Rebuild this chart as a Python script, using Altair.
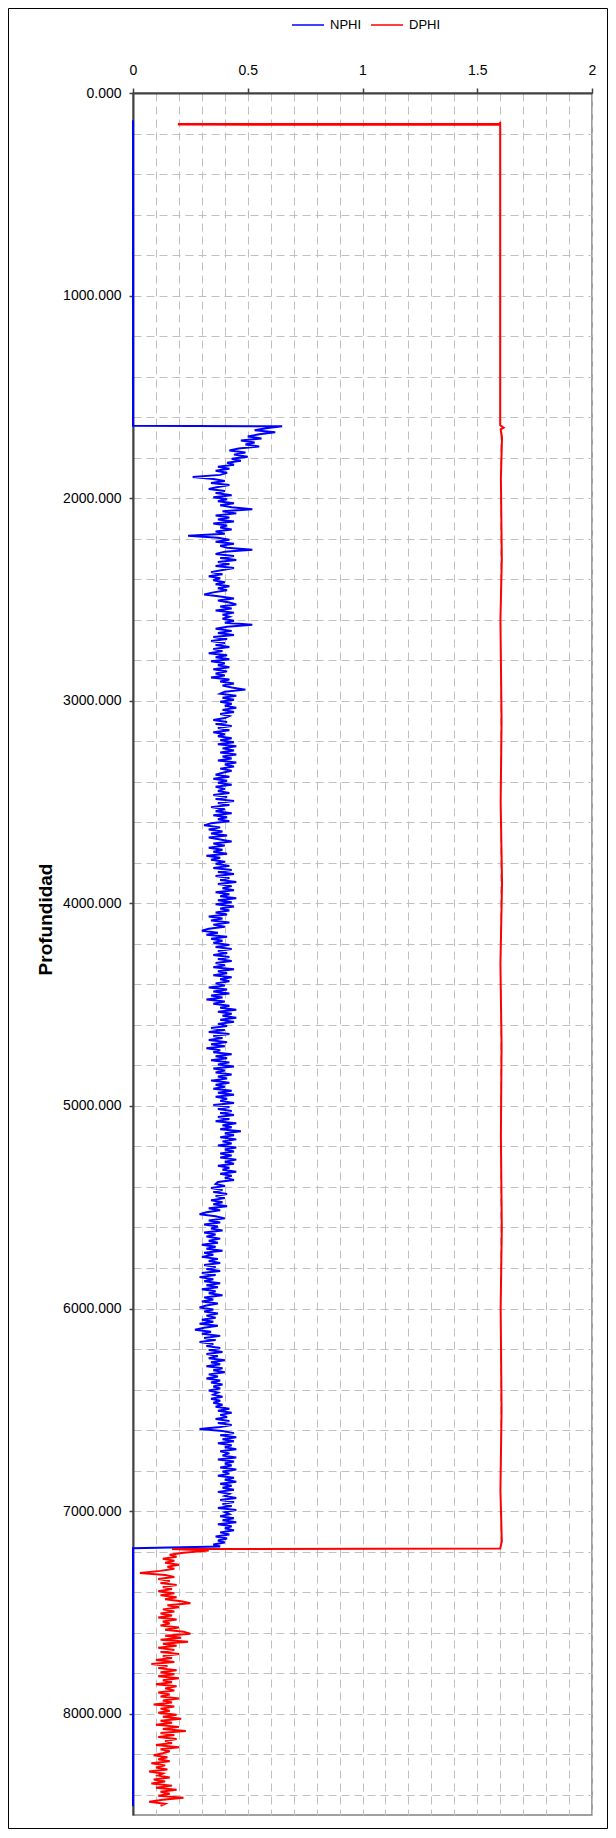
import altair as alt
import pandas as pd

# ---------------- data ----------------
series_names = ["NPHI", "DPHI"]
series_colors = ["#0000FF", "#FF0000"]

x_ticks = [0, 0.1, 0.2, 0.3, 0.4, 0.5, 0.6, 0.7, 0.8, 0.9, 1.0,
           1.1, 1.2, 1.3, 1.4, 1.5, 1.6, 1.7, 1.8, 1.9, 2.0]
y_ticks = [0, 200, 400, 600, 800, 1000, 1200, 1400, 1600, 1800, 2000,
           2200, 2400, 2600, 2800, 3000, 3200, 3400, 3600, 3800, 4000,
           4200, 4400, 4600, 4800, 5000, 5200, 5400, 5600, 5800, 6000,
           6200, 6400, 6600, 6800, 7000, 7200, 7400, 7600, 7800, 8000,
           8200, 8400]

# NPHI: flat at 0 above the logged interval
nphi_upper_depth = [135, 1643]
nphi_upper_value = [0.0, 0.0]

# NPHI logged interval: readings every 10 depth units, in hundredths,
# grouped in blocks that start at the listed depths
log_step = 10
nphi_block_start = [1645, 1845, 2045, 2245, 2445, 2645, 2845, 3045, 3245, 3445,
                    3645, 3845, 4045, 4245, 4445, 4645, 4845, 5045, 5245, 5445,
                    5645, 5845, 6045, 6245, 6445, 6645, 6845, 7045]
nphi_block_pct = [
    [65, 58, 53, 62, 55, 50, 56, 47, 53, 49, 55, 46, 42, 49, 44, 50, 43, 47, 41, 44],
    [37, 42, 36, 41, 38, 26, 35, 40, 34, 42, 37, 33, 40, 36, 43, 35, 41, 37, 44, 38],
    [43, 52, 39, 45, 36, 42, 37, 44, 35, 41, 38, 43, 36, 40, 24, 37, 42, 36, 44, 38],
    [41, 52, 40, 36, 44, 38, 45, 37, 42, 36, 44, 39, 34, 39, 33, 38, 35, 40, 36, 42],
    [37, 41, 35, 31, 38, 44, 37, 42, 45, 38, 43, 36, 44, 39, 42, 39, 44, 40, 52, 41],
    [36, 43, 37, 44, 35, 41, 34, 40, 36, 42, 35, 39, 33, 41, 36, 42, 34, 40, 37, 42],
    [35, 41, 36, 40, 34, 42, 38, 44, 39, 43, 49, 40, 38, 45, 39, 44, 38, 43, 40, 45],
    [39, 44, 38, 42, 40, 35, 41, 36, 43, 37, 42, 35, 40, 37, 43, 38, 44, 37, 45, 39],
    [44, 38, 45, 39, 43, 37, 45, 40, 44, 38, 43, 39, 36, 42, 35, 41, 37, 43, 36, 40],
    [37, 42, 35, 41, 36, 44, 37, 42, 34, 40, 36, 43, 35, 41, 37, 42, 34, 31, 38, 33],
    [39, 34, 41, 33, 38, 43, 35, 40, 33, 39, 35, 41, 32, 38, 34, 40, 36, 42, 35, 43],
    [37, 44, 36, 42, 38, 45, 37, 43, 39, 44, 36, 42, 38, 45, 37, 43, 36, 44, 38, 42],
    [36, 41, 33, 39, 34, 42, 35, 40, 33, 30, 37, 32, 41, 34, 39, 35, 42, 36, 43, 37],
    [41, 35, 42, 37, 43, 36, 40, 35, 44, 37, 41, 35, 43, 38, 42, 36, 40, 33, 41, 35],
    [42, 34, 39, 32, 40, 35, 42, 38, 45, 37, 43, 39, 45, 38, 44, 37, 41, 34, 40, 33],
    [42, 35, 39, 33, 41, 34, 40, 32, 38, 35, 43, 36, 41, 34, 42, 37, 44, 35, 40, 36],
    [43, 37, 41, 34, 42, 36, 40, 35, 43, 37, 44, 36, 41, 38, 44, 35, 42, 37, 43, 38],
    [44, 37, 42, 36, 45, 39, 43, 38, 47, 40, 44, 38, 45, 39, 43, 37, 45, 40, 44, 38],
    [43, 38, 45, 40, 44, 37, 42, 39, 45, 38, 43, 40, 44, 37, 36, 40, 34, 39, 35, 41],
    [36, 40, 34, 39, 35, 41, 33, 38, 32, 29, 36, 40, 33, 38, 31, 37, 34, 39, 31, 36],
    [32, 38, 33, 37, 30, 36, 32, 39, 31, 35, 30, 37, 33, 38, 31, 36, 32, 38, 30, 36],
    [29, 35, 31, 38, 32, 37, 30, 36, 33, 39, 31, 35, 30, 37, 32, 29, 35, 31, 37, 32],
    [36, 30, 35, 29, 37, 31, 27, 34, 30, 38, 31, 36, 29, 35, 32, 38, 33, 39, 32, 37],
    [33, 40, 34, 38, 32, 39, 35, 40, 33, 37, 32, 38, 34, 39, 35, 38, 33, 37, 35, 39],
    [34, 38, 35, 39, 36, 42, 37, 43, 38, 41, 36, 42, 37, 43, 38, 29, 39, 44, 38, 45],
    [39, 44, 37, 43, 40, 45, 38, 42, 39, 45, 37, 44, 40, 43, 38, 45, 39, 42, 37, 44],
    [40, 45, 38, 43, 39, 44, 37, 42, 40, 45, 38, 44, 39, 43, 37, 45, 40, 42, 38, 44],
    [39, 45, 37, 43, 40, 44, 38, 42, 36, 41, 37, 40, 35, 38],
]

# NPHI: flat at 0 below the logged interval
nphi_lower_depth = [7183, 8455]
nphi_lower_value = [0.0, 0.0]

# DPHI: upper part (null-like value ~1.6)
dphi_upper_depth = [142, 152, 153, 156, 157, 1640, 1652, 1660, 1700, 1900,
                    2300, 2600, 3100, 3500, 3900, 4300, 4700, 5150, 5600,
                    6000, 6500, 6900, 7150, 7185, 7187]
dphi_upper_value = [1.6, 1.6, 0.2, 0.2, 1.6, 1.6, 1.615, 1.602, 1.608, 1.603,
                    1.607, 1.601, 1.606, 1.602, 1.608, 1.601, 1.606, 1.603,
                    1.607, 1.602, 1.606, 1.601, 1.607, 1.6, 0.17]

# DPHI logged interval: readings every 10 depth units, in hundredths
dphi_block_start = [7195, 7395, 7595, 7795, 7995, 8195, 8395]
dphi_block_pct = [
    [33, 22, 16, 19, 13, 18, 14, 20, 15, 18, 12, 3, 14, 18, 11, 16, 12, 19, 13, 17],
    [11, 18, 12, 19, 14, 21, 25, 15, 20, 13, 18, 12, 17, 11, 19, 13, 16, 12, 20, 14],
    [22, 25, 14, 21, 12, 24, 13, 19, 11, 18, 12, 20, 13, 17, 10, 18, 8, 15, 11, 19],
    [12, 18, 11, 20, 13, 17, 10, 19, 14, 18, 11, 16, 12, 20, 13, 17, 9, 18, 12, 16],
    [11, 19, 13, 21, 12, 17, 10, 20, 13, 23, 12, 18, 11, 19, 14, 17, 10, 20, 12, 16],
    [13, 9, 15, 11, 16, 8, 14, 10, 15, 7, 13, 11, 16, 9, 14, 8, 17, 10, 19, 12],
    [16, 11, 22, 13, 7, 14, 12],
]

# ---------------- build tables ----------------
def blocks_to_points(starts, blocks, step):
    depths, values = [], []
    for s, blk in zip(starts, blocks):
        for i, v in enumerate(blk):
            depths.append(s + step * i)
            values.append(v / 100.0)
    return depths, values

nl_d, nl_v = blocks_to_points(nphi_block_start, nphi_block_pct, log_step)
dl_d, dl_v = blocks_to_points(dphi_block_start, dphi_block_pct, log_step)

nphi_depth = nphi_upper_depth + nl_d + nphi_lower_depth
nphi_value = nphi_upper_value + nl_v + nphi_lower_value
dphi_depth = dphi_upper_depth + dl_d
dphi_value = dphi_upper_value + dl_v

df_n = pd.DataFrame({"depth": nphi_depth, "value": nphi_value,
                     "series": "NPHI", "idx": range(len(nphi_depth))})
df_d = pd.DataFrame({"depth": dphi_depth, "value": dphi_value,
                     "series": "DPHI", "idx": range(len(dphi_depth))})

FONT = "Liberation Sans"

x_axis = alt.Axis(
    orient="top",
    values=x_ticks,
    labelExpr="abs(datum.value*2 - round(datum.value*2)) < 0.001 ? toString(datum.value) : ''",
    labelFlush=False,
    labelOverlap=False,
    labelFont=FONT,
    labelFontSize=14,
    labelColor="#000000",
    labelPadding=11,
    tickSize=5,
    tickColor="#404040",
    tickWidth=1.5,
    tickOpacity={"condition": {"test": "abs(datum.value*2 - round(datum.value*2)) < 0.001", "value": 1}, "value": 0},
    domainColor="#404040",
    domainWidth=2,
    grid=True,
    gridColor="#c0c0c0",
    gridDash=[8, 5],
    gridWidth=1,
    title=None,
)

y_axis = alt.Axis(
    orient="left",
    values=y_ticks,
    labelExpr="datum.value % 1000 == 0 ? format(datum.value, '.3f') : ''",
    labelOverlap=False,
    labelFont=FONT,
    labelFontSize=14,
    labelColor="#000000",
    labelPadding=8,
    tickSize=4,
    tickColor="#404040",
    tickWidth=1.5,
    tickOpacity={"condition": {"test": "datum.value % 1000 == 0", "value": 1}, "value": 0},
    domainColor="#404040",
    domainWidth=2,
    grid=True,
    gridColor="#c0c0c0",
    gridDash=[8, 5],
    gridWidth=1,
    title="Profundidad",
    titleFont=FONT,
    titleFontSize=19,
    titleFontWeight="bold",
    titleColor="#000000",
    titleAngle=270,
    titleAlign="center",
    titleBaseline="middle",
    titleX=-88,
    titleY=826,
)

color_enc = alt.Color(
    "series:N",
    scale=alt.Scale(domain=series_names, range=series_colors),
    legend=alt.Legend(
        orient="none",
        legendX=158,
        legendY=-85,
        direction="horizontal",
        title=None,
        symbolType="stroke",
        symbolSize=1024,
        symbolStrokeWidth=1.5,
        labelFont=FONT,
        labelFontSize=13,
        labelColor="#000000",
        labelOffset=5,
        columnPadding=6,
    ),
)

x_enc = alt.X("value:Q", scale=alt.Scale(domain=[0, 2], nice=False, zero=False), axis=x_axis)
y_enc = alt.Y("depth:Q", scale=alt.Scale(domain=[0, 8500], reverse=True, nice=False, zero=False), axis=y_axis)

nphi_line = alt.Chart(df_n).mark_line(strokeWidth=2).encode(
    x=x_enc, y=y_enc, color=color_enc, order=alt.Order("idx:Q"))
dphi_line = alt.Chart(df_d).mark_line(strokeWidth=2).encode(
    x=x_enc, y=y_enc, color=color_enc, order=alt.Order("idx:Q"))

frame = alt.Chart(pd.DataFrame({"f": [0]})).mark_rect(
    fillOpacity=0, stroke="#000000", strokeWidth=1).encode(
    x=alt.value(-124.5), x2=alt.value(474.5),
    y=alt.value(-84.5), y2=alt.value(1735.5))

chart = alt.layer(frame, nphi_line, dphi_line).properties(
    width=459,
    height=1722,
    autosize=alt.AutoSizeParams(type="none"),
    padding={"left": 125, "top": 85, "right": 16, "bottom": 14},
    background="#ffffff",
).configure_view(
    stroke="#808080",
    strokeWidth=1.5,
)

chart.save("out.html", embed_options={"renderer": "svg", "actions": False})
